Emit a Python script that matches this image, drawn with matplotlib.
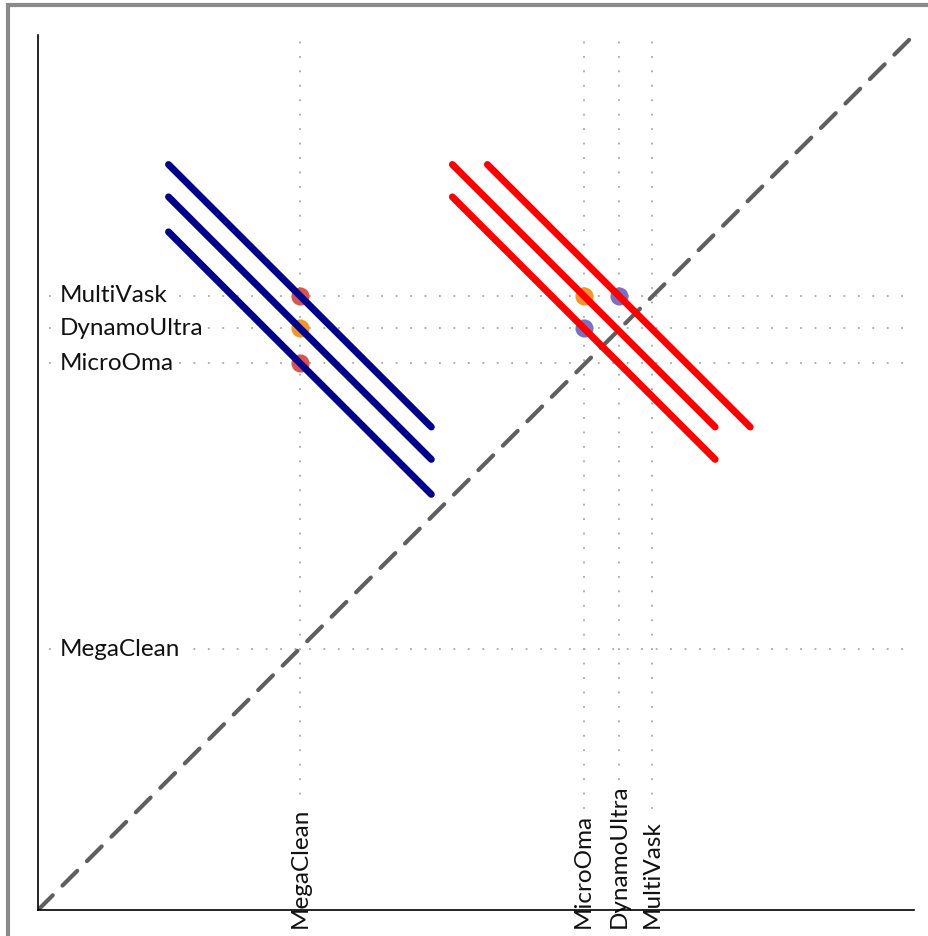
import matplotlib
matplotlib.use("Agg")
import matplotlib.pyplot as plt
from matplotlib.patches import Rectangle

plt.rcParams['font.family'] = ['Lato', 'DejaVu Sans']

# Product positions on the two axes
products_x = ["MegaClean", "MicroOma", "DynamoUltra", "MultiVask"]
x_values = [29.9, 62.3, 66.3, 70.1]
products_y = ["MultiVask", "DynamoUltra", "MicroOma", "MegaClean"]
y_values = [70.2, 66.5, 62.5, 29.8]

# Centre points of the iso-lines (x, y) and their marker colours
blue_centres_x = [29.9, 29.9, 29.9]
blue_centres_y = [70.2, 66.5, 62.5]
blue_marker_colors = ["#d9534f", "#f0962a", "#d9534f"]
red_centres_x = [62.3, 66.3, 62.3]
red_centres_y = [70.2, 70.2, 66.5]
red_marker_colors = ["#f0962a", "#7a6fc0", "#7a6fc0"]
half_len = 15.0

W, H = 929, 936
fig = plt.figure(figsize=(W / 100, H / 100), dpi=100)
ax = fig.add_axes([38 / W, (H - 910) / H, (914 - 38) / W, (910 - 35) / H])
ax.set_xlim(0, 100)
ax.set_ylim(0, 100)
for s in ["top", "right"]:
    ax.spines[s].set_visible(False)
for s in ["left", "bottom"]:
    ax.spines[s].set_color("#000000")
    ax.spines[s].set_linewidth(1.2)
    ax.spines[s].set_zorder(6)
ax.set_xticks([])
ax.set_yticks([])

dot_style = dict(color="#a8a8a8", linestyle=(0, (1, 7)), linewidth=1.3, zorder=1)
for xv in x_values:
    ax.plot([xv, xv], [0, 100], **dot_style)
for yv in y_values:
    ax.plot([1.2, 100], [yv, yv], **dot_style)

# Diagonal reference line
ax.plot([0, 100], [0, 100], color="#5f5f5f", linewidth=3,
        linestyle=(0, (5, 3.3)), dash_capstyle="round", zorder=2)

def draw_set(cx, cy, colors, line_color):
    for x0, y0, mc in zip(cx, cy, colors):
        ax.scatter([x0], [y0], s=170, color=mc, zorder=3, linewidths=0)
        ax.plot([x0 - half_len, x0 + half_len], [y0 + half_len, y0 - half_len],
                color=line_color, linewidth=5, solid_capstyle="round", zorder=4)

draw_set(blue_centres_x, blue_centres_y, blue_marker_colors, "#00008b")
draw_set(red_centres_x, red_centres_y, red_marker_colors, "#ff0000")

bbox = dict(facecolor="white", edgecolor="none", pad=1.0)
for name, yv in zip(products_y, y_values):
    ax.text(2.5, yv, name, ha="left", va="center", fontsize=17.5,
            color="#111111", bbox=bbox, zorder=5)
for name, xv in zip(products_x, x_values):
    ax.text(xv, -2.1, name, ha="center", va="bottom", rotation=90, fontsize=17.5,
            color="#111111", bbox=bbox, zorder=5, clip_on=False)

# Outer frame
fig.patches.append(Rectangle((8 / W, -0.1), 1.2, 1.1 - 5 / H,
                             transform=fig.transFigure, fill=False,
                             edgecolor="#8a8a8a", linewidth=3, zorder=0))

fig.savefig("out.png", dpi=100)
